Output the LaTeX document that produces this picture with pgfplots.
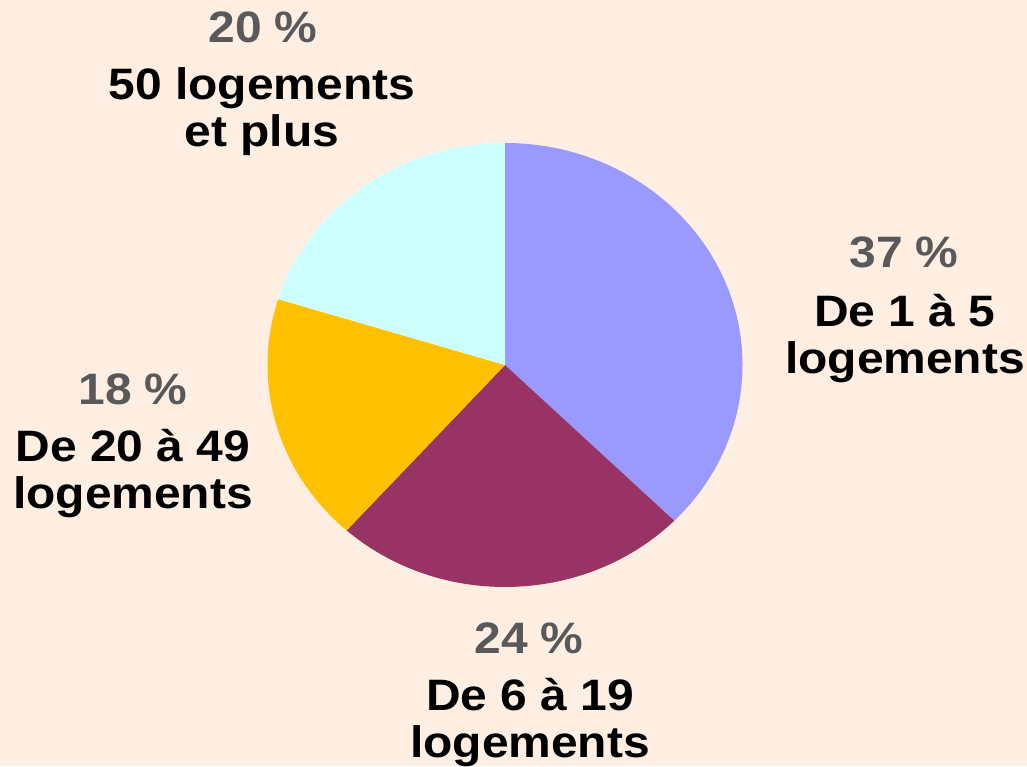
\documentclass[border=0pt]{standalone}
\usepackage{pgfplots}
\pgfplotsset{compat=1.18}
\usepackage{fontspec}
\setmainfont{Liberation Sans}[FakeStretch=1.09]

\definecolor{bg}{HTML}{FFEFE3}
\definecolor{sliceA}{HTML}{9999FF}
\definecolor{sliceB}{HTML}{993366}
\definecolor{sliceC}{HTML}{FFC000}
\definecolor{sliceD}{HTML}{CCFFFF}
\definecolor{pct}{HTML}{595959}

% shares in percent, clockwise from 12 o'clock
\def\vA{37}
\def\vB{24}
\def\vC{18}
\def\vD{20}

\tikzset{
  pctlab/.style={anchor=base, text=pct, font=\fontsize{44}{47}\selectfont\bfseries},
  catlab/.style={anchor=base, align=center, font=\fontsize{44}{47}\selectfont\bfseries},
  wedge/.style={x radius=237.5pt, y radius=222pt},
}

\begin{document}
\begin{tikzpicture}
\pgfmathsetmacro{\tot}{\vA+\vB+\vC+\vD}
\pgfmathsetmacro{\aA}{90}
\pgfmathsetmacro{\aB}{\aA-\vA/\tot*360}
\pgfmathsetmacro{\aC}{\aB-\vB/\tot*360}
\pgfmathsetmacro{\aD}{\aC-\vC/\tot*360}
\pgfmathsetmacro{\aE}{\aD-\vD/\tot*360}
\begin{axis}[
    scale only axis, width=1027pt, height=766pt,
    xmin=0, xmax=1027, ymin=0, ymax=766,
    hide axis, clip=false,
]
\fill[bg] (axis cs:0,0) rectangle (axis cs:1027,766);
\coordinate (SW) at (axis cs:0,0);
\coordinate (NE) at (axis cs:1027,766);

\fill[sliceA] (axis cs:505,401) -- +(\aA:237.5pt and 222pt)
  arc[start angle=\aA, end angle=\aB, wedge] -- cycle;
\fill[sliceB] (axis cs:505,401) -- +(\aB:237.5pt and 222pt)
  arc[start angle=\aB, end angle=\aC, wedge] -- cycle;
\fill[sliceC] (axis cs:505,401) -- +(\aC:237.5pt and 222pt)
  arc[start angle=\aC, end angle=\aD, wedge] -- cycle;
\fill[sliceD] (axis cs:505,401) -- +(\aD:237.5pt and 222pt)
  arc[start angle=\aD, end angle=\aE, wedge] -- cycle;

% labels (category nodes are anchored at the baseline of their last line)
\node[pctlab] at (axis cs:904,498) {\vA~\%};
\node[catlab] at (axis cs:905,392) {De 1 à 5\\logements};

\node[pctlab] at (axis cs:529,113) {\vB~\%};
\node[catlab] at (axis cs:530,9) {De 6 à 19\\logements};

\node[pctlab] at (axis cs:133,361) {\vC~\%};
\node[catlab] at (axis cs:133,258) {De 20 à 49\\logements};

\node[pctlab] at (axis cs:263,723) {\vD~\%};
\node[catlab] at (axis cs:262,619) {50 logements\\et plus};
\end{axis}
\pgfresetboundingbox
\path[use as bounding box] (SW) rectangle (NE);
\end{tikzpicture}
\end{document}
